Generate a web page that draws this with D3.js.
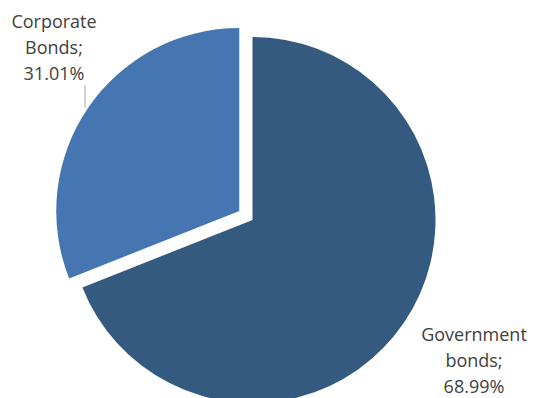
<!DOCTYPE html>
<html>
<head>
<meta charset="utf-8">
<script src="https://cdn.jsdelivr.net/npm/d3@7"></script>
<style>
  body { margin: 0; background: #fff; }
  text { font-family: "Open Sans", sans-serif; fill: #404040; }
</style>
</head>
<body>
<div id="chart"></div>
<script>
var w = 534;
var h = 398;

// data ====================================================
var categories = ["Government bonds", "Corporate Bonds"];
var values = [68.99, 31.01];
var labelLines = [["Government", "bonds;", "68.99%"], ["Corporate", "Bonds;", "31.01%"]];
var colors = ["#355a7f", "#4576b1"];
// ===========================================================

var svg = d3.select("#chart")
            .append("svg")
            .attr("width", w)
            .attr("height", h);

var cx = 252.5, cy = 220, r = 183;
var explode = 16;

var pie = d3.pie().sort(null).value(function(d){ return d; });
var arc = d3.arc().innerRadius(0).outerRadius(r);
var slices = pie(values);

var g = svg.append("g").attr("transform", "translate(" + cx + "," + cy + ")");

g.selectAll("path")
 .data(slices)
 .enter()
 .append("path")
 .attr("d", arc)
 .attr("fill", function(d, i){ return colors[i]; })
 .attr("transform", function(d, i){
     if (i == 0) return null;
     var a = (d.startAngle + d.endAngle) / 2;
     return "translate(" + (Math.sin(a) * explode) + "," + (-Math.cos(a) * explode) + ")";
 });

// labels ====================================================
var labelPos = [[474, 341], [54, 28]];
labelLines.forEach(function(lines, i){
    var t = svg.append("text")
               .attr("text-anchor", "middle")
               .style("font-size", "18px");
    lines.forEach(function(s, j){
        t.append("tspan")
         .attr("x", labelPos[i][0])
         .attr("y", labelPos[i][1] + j * 26)
         .text(s);
    });
});

// leader line for the corporate label
svg.append("line")
   .attr("x1", 85).attr("y1", 85)
   .attr("x2", 85).attr("y2", 108)
   .attr("stroke", "#a6a6a6")
   .attr("stroke-width", 1);
</script>
</body>
</html>
